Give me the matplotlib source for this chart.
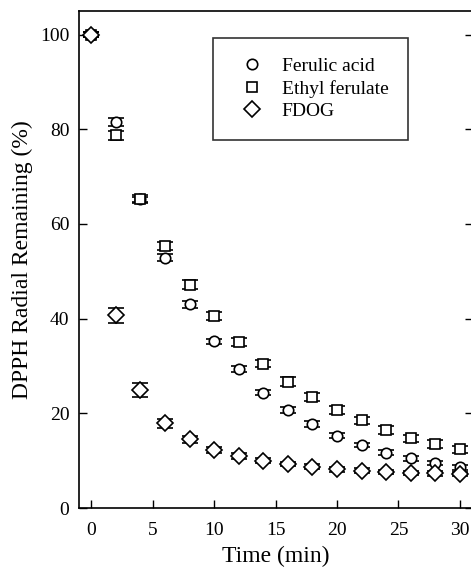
import matplotlib
matplotlib.use("Agg")
import matplotlib.pyplot as plt
from matplotlib.lines import Line2D

time = [0, 2, 4, 6, 8, 10, 12, 14, 16, 18, 20, 22, 24, 26, 28, 30]
ferulic = [100, 81.5, 65.2, 52.9, 43.0, 35.2, 29.3, 24.4, 20.7, 17.7, 15.3, 13.3, 11.7, 10.5, 9.5, 8.6]
ferulic_err = [0.6, 0.9, 0.6, 0.8, 0.8, 0.6, 0.6, 0.6, 0.6, 0.6, 0.5, 0.5, 0.5, 0.5, 0.5, 0.5]
ethyl = [100, 78.7, 65.3, 55.3, 47.2, 40.6, 35.1, 30.5, 26.7, 23.5, 20.7, 18.5, 16.5, 14.7, 13.5, 12.4]
ethyl_err = [0.6, 0.9, 0.8, 0.8, 0.9, 0.8, 0.8, 0.8, 0.9, 0.9, 0.9, 0.8, 0.8, 0.8, 0.8, 0.7]
fdog = [100, 40.7, 24.9, 17.9, 14.5, 12.2, 11.0, 10.0, 9.3, 8.7, 8.2, 7.9, 7.6, 7.4, 7.3, 7.2]
fdog_err = [0.6, 1.6, 1.5, 0.9, 0.7, 0.6, 0.6, 0.5, 0.5, 0.5, 0.5, 0.5, 0.5, 0.5, 0.5, 0.5]

labels = ["Ferulic acid", "Ethyl ferulate", "FDOG"]
xticks = [0, 5, 10, 15, 20, 25, 30]
yticks = [0, 20, 40, 60, 80, 100]

plt.rcParams['font.family'] = ['Liberation Serif', 'DejaVu Serif']

fig = plt.figure(figsize=(4.71, 5.75), dpi=100)
ax = fig.add_axes([0.1677, 0.1165, 0.836, 0.8644])

series = [(ferulic, ferulic_err, 'o', 7.5), (ethyl, ethyl_err, 's', 7), (fdog, fdog_err, 'D', 8)]
handles = []
for (vals, err, mk, ms), lab in zip(series, labels):
    ax.errorbar(time, vals, yerr=err, fmt=mk, ms=ms, mfc='white', mec='black', mew=1.2,
                ecolor='black', elinewidth=1.0, capsize=5.5, capthick=1.0)
    handles.append(Line2D([], [], ls='none', marker=mk, ms=ms, mfc='white', mec='black',
                          mew=1.2, label=lab))

ax.set_xlim(-1, 31.05)
ax.set_ylim(0, 105)
ax.set_xticks(xticks)
ax.set_yticks(yticks)
ax.tick_params(direction='in', length=6, width=1, labelsize=14, right=True, top=False)
ax.tick_params(axis='x', pad=10)
ax.tick_params(axis='y', pad=7)
for s in ax.spines.values():
    s.set_linewidth(1.2)
ax.set_xlabel("Time (min)", fontsize=17, labelpad=5)
ax.set_ylabel("DPPH Radial Remaining (%)", fontsize=17, labelpad=5)

leg = ax.legend(handles=handles, loc='upper left', bbox_to_anchor=(0.3395, 0.946),
                frameon=True, fancybox=False, edgecolor='black', fontsize=14,
                handletextpad=0.55, borderpad=1.0, labelspacing=0.25, handlelength=2.0,
                borderaxespad=0)
leg.get_frame().set_linewidth(1.2)

fig.savefig("out.png", dpi=100)
